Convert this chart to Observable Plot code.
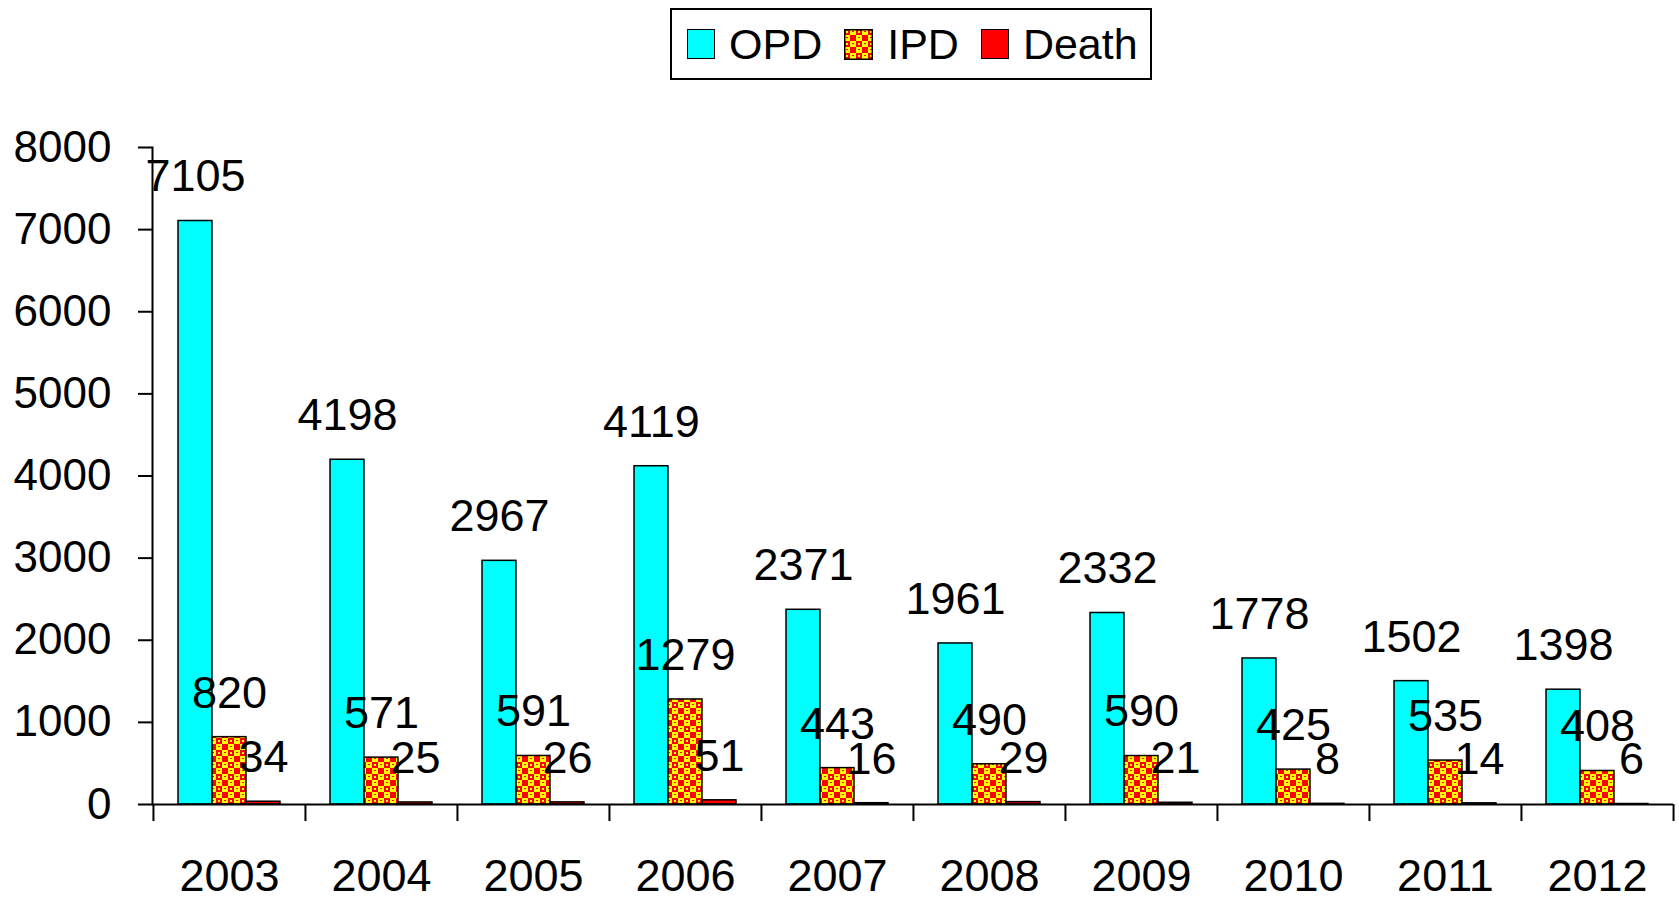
<!DOCTYPE html>
<html>
<head>
<meta charset="utf-8">
<script src="https://cdn.jsdelivr.net/npm/d3@7"></script>
<script src="https://cdn.jsdelivr.net/npm/@observablehq/plot@0.6"></script>
<style>
  html, body { margin: 0; padding: 0; background: white; }
  body { width: 1679px; height: 900px; position: relative; overflow: hidden;
         font-family: "Liberation Sans", Arial, sans-serif; }
  #legend { position: absolute; left: 670px; top: 8px; width: 478px; height: 68px;
            border: 2px solid black; display: flex; align-items: center; box-sizing: content-box;
            font-size: 43px; color: black; }
  #legend .item { display: flex; align-items: center; margin-left: 15px; }
  #legend .item + .item { margin-left: 22px; }
  #legend .sw { width: 26px; height: 28px; border: 1.5px solid black; margin-right: 14px; display: block; }
  #legend svg.sw { border: none; width: 29px; height: 31px; }
  #chart { position: absolute; left: 0; top: 90px; }
</style>
</head>
<body>
<div id="legend"></div>
<div id="chart"></div>
<script>
// ---- data ----
const years = ["2003", "2004", "2005", "2006", "2007", "2008", "2009", "2010", "2011", "2012"];
const opd   = [7105, 4198, 2967, 4119, 2371, 1961, 2332, 1778, 1502, 1398];
const ipd   = [820, 571, 591, 1279, 443, 490, 590, 425, 535, 408];
const death = [34, 25, 26, 51, 16, 29, 21, 8, 14, 6];
const seriesNames = ["OPD", "IPD", "Death"];
const yTicks = [0, 1000, 2000, 3000, 4000, 5000, 6000, 7000, 8000];

const table = years.map((year, i) => ({year, opd: opd[i], ipd: ipd[i], death: death[i]}));

// ---- layout ----
const W = 1679, H = 810, ML = 152, MR = 6, MT = 57, MB = 96;
const step = (W - ML - MR) / years.length;
const barW = step * 34 / 152;
const pad = (step - 3 * barW) / 2;
const FONT = "'Liberation Sans', Arial, sans-serif";

function patternInto(defs, id) {
  const p = defs.append("pattern").attr("id", id).attr("patternUnits", "userSpaceOnUse")
    .attr("width", 12).attr("height", 12);
  const r = (x, y, w, h, c) => p.append("rect").attr("x", x).attr("y", y).attr("width", w).attr("height", h).attr("fill", c);
  r(0, 0, 12, 12, "#FFFF00");
  r(0, 0, 6, 6, "#FF0000");
  r(6, 6, 6, 6, "#FF0000");
  r(2, 2, 2, 2, "#FFFF00");
  r(8, 2, 2, 1, "#FF0000");
  r(2, 8, 2, 1, "#FF0000");
}

const defsMark = () => {
  const defs = d3.create("svg:defs");
  patternInto(defs, "ipdPat");
  return defs.node();
};

const barStyle = {stroke: "black", strokeWidth: 1.5};
const LBL = 45;
const chart = Plot.plot({
  width: W, height: H,
  marginLeft: ML, marginRight: MR, marginTop: MT, marginBottom: MB,
  style: {fontFamily: FONT, fontSize: "44px", color: "black", background: "white", overflow: "visible"},
  x: {domain: years, padding: 0, axis: null, label: null},
  y: {domain: [0, 8000], axis: null, label: null},
  marks: [
    defsMark,
    Plot.barY(table, {x: "year", y: "opd", fill: "#00FFFF", insetLeft: pad, insetRight: pad + 2 * barW, ...barStyle}),
    Plot.barY(table, {x: "year", y: "ipd", fill: "url(#ipdPat)", insetLeft: pad + barW, insetRight: pad + barW, ...barStyle}),
    Plot.barY(table, {x: "year", y: "death", fill: "#FF0000", insetLeft: pad + 2 * barW, insetRight: pad, ...barStyle}),
    Plot.ruleY([0], {stroke: "black", strokeWidth: 2}),
    Plot.frame({anchor: "left", stroke: "black", strokeWidth: 2}),
    Plot.axisY(yTicks, {tickSize: 14, tickPadding: 27, tickFormat: d => String(d), label: null, strokeWidth: 2, fontSize: 44, fill: "black", stroke: "black"}),
    Plot.axisX(years, {tickSize: 0, tickPadding: 55, label: null, fontSize: LBL, fill: "black"}),
    Plot.axisX(years, {tickSize: 17, tickFormat: () => "", label: null, dx: -step / 2, strokeWidth: 2, stroke: "black"}),
    Plot.axisX([years[years.length - 1]], {tickSize: 17, tickFormat: () => "", label: null, dx: step / 2, strokeWidth: 2, stroke: "black"}),
    Plot.text(table, {x: "year", y: "opd", text: d => String(d.opd), dx: pad + barW / 2 - step / 2, dy: -44, fontSize: LBL, fill: "black"}),
    Plot.text(table, {x: "year", y: "ipd", text: d => String(d.ipd), dx: 0, dy: -44, fontSize: LBL, fill: "black"}),
    Plot.text(table, {x: "year", y: "death", text: d => String(d.death), dx: step / 2 - pad - barW / 2, dy: -44, fontSize: LBL, fill: "black"})
  ]
});
document.getElementById("chart").appendChild(chart);

// ---- legend ----
const legend = d3.select("#legend");
const fills = {"OPD": "#00FFFF", "IPD": "pattern", "Death": "#FF0000"};
seriesNames.forEach(name => {
  const item = legend.append("div").attr("class", "item");
  if (fills[name] === "pattern") {
    const s = item.append("svg").attr("class", "sw").attr("width", 29).attr("height", 31);
    const defs = s.append("defs");
    patternInto(defs, "legPat");
    s.append("rect").attr("x", 0.75).attr("y", 0.75).attr("width", 27.5).attr("height", 29.5)
      .attr("fill", "url(#legPat)").attr("stroke", "black").attr("stroke-width", 1.5);
  } else {
    item.append("span").attr("class", "sw").style("background", fills[name]);
  }
  item.append("span").text(name);
});
</script>
</body>
</html>
